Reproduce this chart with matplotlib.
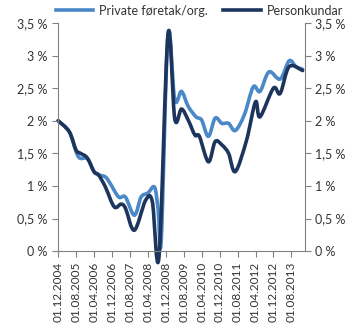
import matplotlib
matplotlib.use("Agg")
import matplotlib.pyplot as plt
from matplotlib.path import Path
from matplotlib.patches import PathPatch
from matplotlib.lines import Line2D

# months counted from 01.12.2004
tick_labels = ["01.12.2004", "01.08.2005", "01.04.2006", "01.12.2006", "01.08.2007",
               "01.04.2008", "01.12.2008", "01.08.2009", "01.04.2010", "01.12.2010",
               "01.08.2011", "01.04.2012", "01.12.2012", "01.08.2013"]
tick_pos = [i * 8 for i in range(len(tick_labels))]

priv_m = [0, 5, 9, 13, 16, 18, 21, 23, 27, 30, 34, 37, 40, 43, 44.6, 46, 49,
          52, 55, 58, 61.5, 64, 67, 70, 73, 76, 79, 83, 87, 90, 94, 99, 103, 106, 109]
priv_v = [2.00, 1.83, 1.45, 1.42, 1.22, 1.17, 1.14, 1.05, 0.83, 0.83, 0.55, 0.83, 0.89, 0.98,
          0.63, 0.18, 3.32, 2.32, 2.45, 2.22, 2.06, 2.01, 1.76, 2.04, 1.96, 1.96, 1.85, 2.09,
          2.52, 2.45, 2.75, 2.64, 2.92, 2.83, 2.79]

pers_m = [0, 5, 8, 10, 13, 16, 18, 21, 25, 28, 30, 34, 39, 42, 45, 49,
          52, 55, 58, 61, 63, 67, 70, 73, 76, 79, 84, 88, 90, 96, 99, 103, 109]
pers_v = [2.00, 1.83, 1.55, 1.50, 1.43, 1.22, 1.17, 0.99, 0.68, 0.72, 0.66, 0.32, 0.78, 0.76,
          -0.08, 3.33, 2.03, 2.18, 2.01, 1.78, 1.76, 1.37, 1.68, 1.63, 1.50, 1.22, 1.70,
          2.29, 2.06, 2.50, 2.42, 2.83, 2.77]

y_ticks = [0, 0.5, 1, 1.5, 2, 2.5, 3, 3.5]
y_labels = ["0 %", "0,5 %", "1 %", "1,5 %", "2 %", "2,5 %", "3 %", "3,5 %"]

PRIV_COL = "#4a88c7"
PERS_COL = "#1d355c"


def smooth_path(xs, ys):
    # excel-style smoothed line: catmull-rom segments as bezier curves
    pts = list(zip(xs, ys))
    verts = [pts[0]]
    codes = [Path.MOVETO]
    n = len(pts)
    for i in range(n - 1):
        p0 = pts[max(i - 1, 0)]
        p1 = pts[i]
        p2 = pts[i + 1]
        p3 = pts[min(i + 2, n - 1)]
        c1 = (p1[0] + (p2[0] - p0[0]) / 6, p1[1] + (p2[1] - p0[1]) / 6)
        c2 = (p2[0] - (p3[0] - p1[0]) / 6, p2[1] - (p3[1] - p1[1]) / 6)
        verts += [c1, c2, p2]
        codes += [Path.CURVE4] * 3
    return Path(verts, codes)


plt.rcParams["font.family"] = ["Lato", "DejaVu Sans"]

fig = plt.figure(figsize=(3.5, 3.24), dpi=100)
ax = fig.add_axes([0.166, 0.225, 0.705, 0.704])

for xs, ys, col in [(priv_m, priv_v, PRIV_COL), (pers_m, pers_v, PERS_COL)]:
    ax.add_patch(PathPatch(smooth_path(xs, ys), facecolor="none", edgecolor=col,
                           lw=2.6, joinstyle="round", capstyle="round", clip_on=False))

ax.set_xlim(0, 110)
ax.set_ylim(0, 3.5)
ax.set_yticks(y_ticks)
ax.set_yticklabels(y_labels)
ax.set_xticks(tick_pos)
ax.set_xticklabels(tick_labels, rotation=90)

ax.tick_params(axis="y", which="both", left=True, right=True, labelleft=True,
               labelright=True, labelsize=9, color="#808080", length=4, labelcolor="#333333")
ax.tick_params(axis="x", labelsize=8.5, color="#808080", length=4, labelcolor="#333333")
ax.spines["top"].set_visible(False)
for s in ["left", "right", "bottom"]:
    ax.spines[s].set_color("#808080")

handles = [Line2D([], [], color=PRIV_COL, lw=2.6), Line2D([], [], color=PERS_COL, lw=2.6)]
fig.legend(handles, ["Private føretak/org.", "Personkundar"], loc="upper center",
           bbox_to_anchor=(0.57, 1.02), ncol=2, frameon=False, fontsize=9,
           handlelength=3, columnspacing=1.2, handletextpad=0.5, labelcolor="#333333")

fig.savefig("out.png", dpi=100)
